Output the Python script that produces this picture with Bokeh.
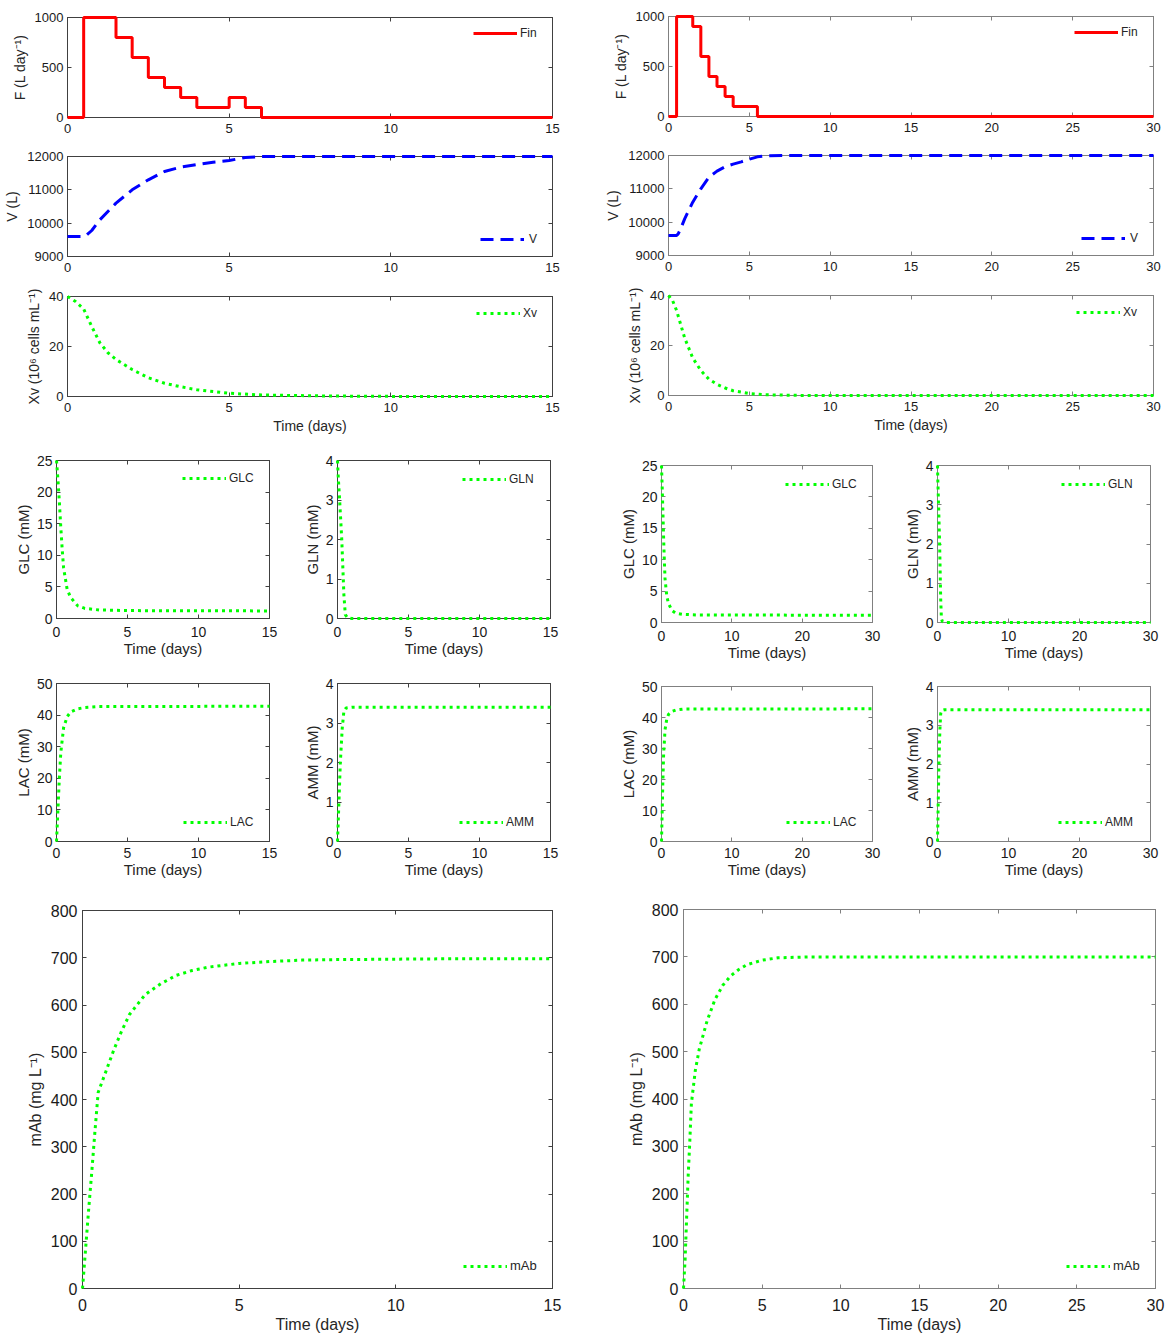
from bokeh.plotting import figure
from bokeh.models import Range1d, FixedTicker, LinearAxis, Legend, LegendItem
from bokeh.layouts import row, column
from bokeh.embed import file_html
from bokeh.resources import INLINE

# ---------------- data: 15-day run ----------------
fin_t_15 = [0, 0.5, 1.5, 2, 2.5, 3, 3.5, 4, 5, 5.5, 6, 15]
fin_15 = [0, 1000, 800, 600, 400, 300, 200, 100, 200, 100, 0, 0]

v_t_15 = [0, 0.5, 0.6, 0.75, 1, 1.5, 2, 2.5, 3, 3.5, 4, 4.5, 5, 5.5, 6, 15]
v_15 = [9600, 9600, 9650, 9780, 10100, 10600, 11000, 11300, 11550, 11680, 11760,
        11830, 11880, 11970, 12000, 12000]

xv_t_15 = [0, 0.25, 0.5, 0.75, 1, 1.25, 1.5, 2, 2.5, 3, 3.5, 4, 5, 6, 8, 10, 15]
xv_15 = [40, 38, 35, 28, 21.5, 17.5, 14.8, 10.8, 7.5, 5.3, 3.9, 2.7, 1.3, 0.6, 0.2, 0.05, 0]

glc_t_15 = [0, 0.1, 0.2, 0.3, 0.4, 0.5, 0.75, 1, 1.5, 2, 3, 5, 15]
glc_15 = [25, 22, 18.5, 14.5, 11, 8, 4.6, 3.3, 2.0, 1.6, 1.35, 1.25, 1.2]

gln_t_15 = [0, 0.05, 0.15, 0.3, 0.45, 0.55, 0.7, 1, 15]
gln_15 = [4, 3.6, 3.0, 2.0, 0.6, 0.1, 0.02, 0, 0]

lac_t_15 = [0, 0.1, 0.2, 0.3, 0.5, 0.75, 1, 1.5, 2, 3, 15]
lac_15 = [0, 10, 20, 28, 36, 39.5, 41, 42, 42.4, 42.7, 42.8]

amm_t_15 = [0, 0.1, 0.2, 0.33, 0.45, 0.6, 1, 15]
amm_15 = [0, 1.0, 2.0, 2.85, 3.3, 3.38, 3.4, 3.4]

mab_t_15 = [0, 0.1, 0.2, 0.3, 0.4, 0.5, 0.75, 1, 1.25, 1.5, 2, 2.5, 3, 3.5, 4, 5, 6, 7,
            8, 10, 12, 15]
mab_15 = [0, 85, 170, 250, 335, 415, 460, 505, 545, 580, 622, 645, 663, 673, 680, 688,
          692, 695, 696, 697, 698, 698]

# ---------------- data: 30-day run ----------------
fin_t_30 = [0, 0.5, 1.5, 2, 2.5, 3, 3.5, 4, 5.5, 30]
fin_30 = [0, 1000, 900, 600, 400, 300, 200, 100, 0, 0]

v_t_30 = [0, 0.5, 0.6, 0.75, 1, 1.5, 2, 2.5, 3, 3.5, 4, 4.5, 5, 5.5, 6, 7, 30]
v_30 = [9600, 9600, 9650, 9800, 10100, 10600, 11000, 11350, 11530, 11660, 11740,
        11810, 11890, 11960, 11990, 12000, 12000]

xv_t_30 = [0, 0.25, 0.5, 0.75, 1, 1.5, 2, 2.5, 3, 3.5, 4, 5, 6, 8, 30]
xv_30 = [40, 38, 34, 28.5, 23, 15, 10, 6.5, 4.5, 3, 1.9, 0.8, 0.3, 0.05, 0]

glc_t_30 = [0, 0.1, 0.2, 0.3, 0.4, 0.5, 0.75, 1, 1.5, 2, 3, 5, 30]
glc_30 = [25, 21.5, 17.5, 13.5, 10, 7, 4.2, 3, 1.9, 1.5, 1.3, 1.2, 1.15]

gln_t_30 = [0, 0.05, 0.15, 0.3, 0.45, 0.55, 0.7, 1, 30]
gln_30 = [4, 3.6, 3.0, 2.0, 0.6, 0.1, 0.02, 0, 0]

lac_t_30 = [0, 0.1, 0.2, 0.3, 0.5, 0.75, 1, 1.5, 2, 3, 30]
lac_30 = [0, 10, 20, 28, 36, 39.5, 41, 42, 42.4, 42.7, 42.8]

amm_t_30 = [0, 0.1, 0.2, 0.33, 0.45, 0.6, 1, 30]
amm_30 = [0, 1.0, 2.0, 2.85, 3.3, 3.38, 3.4, 3.4]

mab_t_30 = [0, 0.1, 0.2, 0.3, 0.4, 0.5, 0.75, 1, 1.5, 2, 2.5, 3, 3.5, 4, 5, 6, 8, 10, 30]
mab_30 = [0, 60, 150, 240, 310, 390, 460, 505, 565, 610, 640, 660, 673, 683, 693, 698,
          700, 700, 700]

# ---------------- tick sets ----------------
ticks_t15 = [0, 5, 10, 15]
ticks_t30_fine = [0, 5, 10, 15, 20, 25, 30]
ticks_t30 = [0, 10, 20, 30]
ticks_fin = [0, 500, 1000]
ticks_v = [9000, 10000, 11000, 12000]
ticks_xv = [0, 20, 40]
ticks_glc = [0, 5, 10, 15, 20, 25]
ticks_0_4 = [0, 1, 2, 3, 4]
ticks_lac = [0, 10, 20, 30, 40, 50]
ticks_mab = [0, 100, 200, 300, 400, 500, 600, 700, 800]

FONT = "Liberation Sans"
TXT = "#262626"
RED, BLUE, GREEN = "#ff0000", "#0000ff", "#00ff00"


def panel(w, h, l, r, t, b, xr, yr, xt, yt, ylabel, xlabel=None,
          tick_fs="13px", lab_fs="14px", axis_col="#404040",
          xtick_sd=6, ytick_sd=4, xlab_sd=3, ylab_sd=4):
    p = figure(width=w, height=h, x_range=Range1d(*xr), y_range=Range1d(*yr),
               output_backend="svg", toolbar_location=None,
               min_border_left=l, min_border_right=r,
               min_border_top=t, min_border_bottom=b)
    p.grid.visible = False
    p.outline_line_color = axis_col
    p.background_fill_color = "white"
    p.border_fill_color = "white"
    top = LinearAxis()
    right = LinearAxis()
    p.add_layout(top, "above")
    p.add_layout(right, "right")
    for ax, ticks in ((p.below[0], xt), (p.left[0], yt), (top, xt), (right, yt)):
        ax.ticker = FixedTicker(ticks=ticks)
        ax.major_tick_in = 4
        ax.major_tick_out = 0
        ax.minor_tick_line_color = None
        ax.axis_line_color = axis_col
        ax.major_tick_line_color = axis_col
        ax.major_label_text_font = FONT
        ax.major_label_text_color = "#1a1a1a"
        ax.major_label_text_font_size = tick_fs
        ax.axis_label_text_font = FONT
        ax.axis_label_text_font_style = "normal"
        ax.axis_label_text_color = TXT
        ax.axis_label_text_font_size = lab_fs
    p.below[0].major_label_standoff = xtick_sd
    p.below[0].axis_label_standoff = xlab_sd
    p.left[0].major_label_standoff = ytick_sd
    p.left[0].axis_label_standoff = ylab_sd
    for ax, ticks in ((top, xt), (right, yt)):
        ax.major_label_overrides = {v: "" for v in ticks}
        ax.major_label_text_font_size = "0px"
        ax.major_label_standoff = 0
    p.left[0].axis_label = ylabel
    if xlabel:
        p.below[0].axis_label = xlabel
    return p


def legend(p, label, rend, x, y, fs="12px", standoff=3):
    lg = Legend(items=[LegendItem(label=label, renderers=[rend])], location=(x, y),
                background_fill_alpha=0, border_line_alpha=0, padding=0, margin=0,
                spacing=0, glyph_width=44, glyph_height=12, label_height=12,
                label_standoff=standoff, label_text_font=FONT, label_text_font_size=fs,
                label_text_color=TXT)
    p.add_layout(lg)


def dotted(p, x, y):
    return p.line(x, y, line_color=GREEN, line_width=3, line_dash="3 4", level="overlay")


TD = "Time (days)"
F_LAB = "F (L day\u207b\u00b9)"
XV_LAB = "Xv (10\u2076 cells mL\u207b\u00b9)"
MAB_LAB = "mAb (mg L\u207b\u00b9)"
SMALL = dict(tick_fs="14px", lab_fs="15px", xtick_sd=8, ytick_sd=4, xlab_sd=0, ylab_sd=2)
SMALL_LOW = dict(SMALL, xtick_sd=6)
BIG = dict(tick_fs="16px", lab_fs="16px", xtick_sd=10, ytick_sd=5, xlab_sd=2, ylab_sd=4)

# ================= left column: 15 days =================
CL = "#404040"
fF = panel(583, 139, 67, 31, 17, 22, (0, 15), (0, 1000), ticks_t15, ticks_fin, F_LAB, axis_col=CL)
r = fF.step(fin_t_15, fin_15, mode="after", line_color=RED, line_width=3, level="overlay")
legend(fF, "Fin", r, 406, 77)

fV = panel(583, 138, 67, 31, 17, 21, (0, 15), (9000, 12000), ticks_t15, ticks_v, "V (L)", axis_col=CL)
r = fV.line(v_t_15, v_15, line_color=BLUE, line_width=3, line_dash="13 7", level="overlay")
legend(fV, "V", r, 413, 10, standoff=5)

fX = panel(583, 159, 67, 31, 19, 40, (0, 15), (0, 40), ticks_t15, ticks_xv, XV_LAB, TD, axis_col=CL)
r = dotted(fX, xv_t_15, xv_15)
legend(fX, "Xv", r, 409, 76)

gA = panel(300, 224, 56, 31, 24, 42, (0, 15), (0, 25), ticks_t15, ticks_glc, "GLC (mM)", TD,
           axis_col=CL, **SMALL)
legend(gA, "GLC", dotted(gA, glc_t_15, glc_15), 126, 133)
gB = panel(283, 224, 37, 33, 24, 42, (0, 15), (0, 4), ticks_t15, ticks_0_4, "GLN (mM)", TD,
           axis_col=CL, **SMALL)
legend(gB, "GLN", dotted(gB, gln_t_15, gln_15), 125, 132)

gC = panel(300, 220, 56, 31, 23, 39, (0, 15), (0, 50), ticks_t15, ticks_lac, "LAC (mM)", TD,
           axis_col=CL, **SMALL_LOW)
legend(gC, "LAC", dotted(gC, lac_t_15, lac_15), 127, 12)
gD = panel(283, 220, 37, 33, 23, 39, (0, 15), (0, 4), ticks_t15, ticks_0_4, "AMM (mM)", TD,
           axis_col=CL, **SMALL_LOW)
legend(gD, "AMM", dotted(gD, amm_t_15, amm_15), 122, 12)

fM = panel(583, 458, 82, 31, 30, 50, (0, 15), (0, 800), ticks_t15, ticks_mab, MAB_LAB, TD,
           axis_col=CL, **BIG)
legend(fM, "mAb", dotted(fM, mab_t_15, mab_15), 381, 15, fs="13px")

# each figure sits in its own row so the column does not line up their frames
left_col = column(row(fF), row(fV), row(fX), row(gA, gB), row(gC, gD), row(fM))

# ================= right column: 30 days =================
CR = "#808080"
hF = panel(583, 137, 85, 13, 16, 21, (0, 30), (0, 1000), ticks_t30_fine, ticks_fin, F_LAB, axis_col=CR)
r = hF.step(fin_t_30, fin_30, mode="after", line_color=RED, line_width=3, level="overlay")
legend(hF, "Fin", r, 406, 77)

hV = panel(583, 139, 85, 13, 18, 21, (0, 30), (9000, 12000), ticks_t30_fine, ticks_v, "V (L)", axis_col=CR)
r = hV.line(v_t_30, v_30, line_color=BLUE, line_width=3, line_dash="13 7", level="overlay")
legend(hV, "V", r, 413, 10, standoff=5)

hX = panel(583, 164, 85, 13, 19, 45, (0, 30), (0, 40), ticks_t30_fine, ticks_xv, XV_LAB, TD, axis_col=CR)
r = dotted(hX, xv_t_30, xv_30)
legend(hX, "Xv", r, 408, 76)

kA = panel(310, 224, 78, 21, 25, 42, (0, 30), (0, 25), ticks_t30, ticks_glc, "GLC (mM)", TD,
           axis_col=CR, **SMALL)
legend(kA, "GLC", dotted(kA, glc_t_30, glc_30), 124, 131)
kB = panel(273, 224, 44, 16, 25, 42, (0, 30), (0, 4), ticks_t30, ticks_0_4, "GLN (mM)", TD,
           axis_col=CR, **SMALL)
legend(kB, "GLN", dotted(kB, gln_t_30, gln_30), 124, 131)

kC = panel(310, 216, 78, 21, 22, 38, (0, 30), (0, 50), ticks_t30, ticks_lac, "LAC (mM)", TD,
           axis_col=CR, **SMALL_LOW)
legend(kC, "LAC", dotted(kC, lac_t_30, lac_30), 125, 12)
kD = panel(273, 216, 44, 16, 22, 38, (0, 30), (0, 4), ticks_t30, ticks_0_4, "AMM (mM)", TD,
           axis_col=CR, **SMALL_LOW)
legend(kD, "AMM", dotted(kD, amm_t_30, amm_30), 121, 12)

hM = panel(583, 458, 100, 11, 29, 50, (0, 30), (0, 800), ticks_t30_fine, ticks_mab, MAB_LAB, TD,
           axis_col=CR, **BIG)
legend(hM, "mAb", dotted(hM, mab_t_30, mab_30), 383, 15, fs="13px")

right_col = column(row(hF), row(hV), row(hX), row(kA, kB), row(kC, kD), row(hM))

page = row(left_col, right_col)

with open("out.html", "w") as fh:
    fh.write(file_html(page, INLINE))
